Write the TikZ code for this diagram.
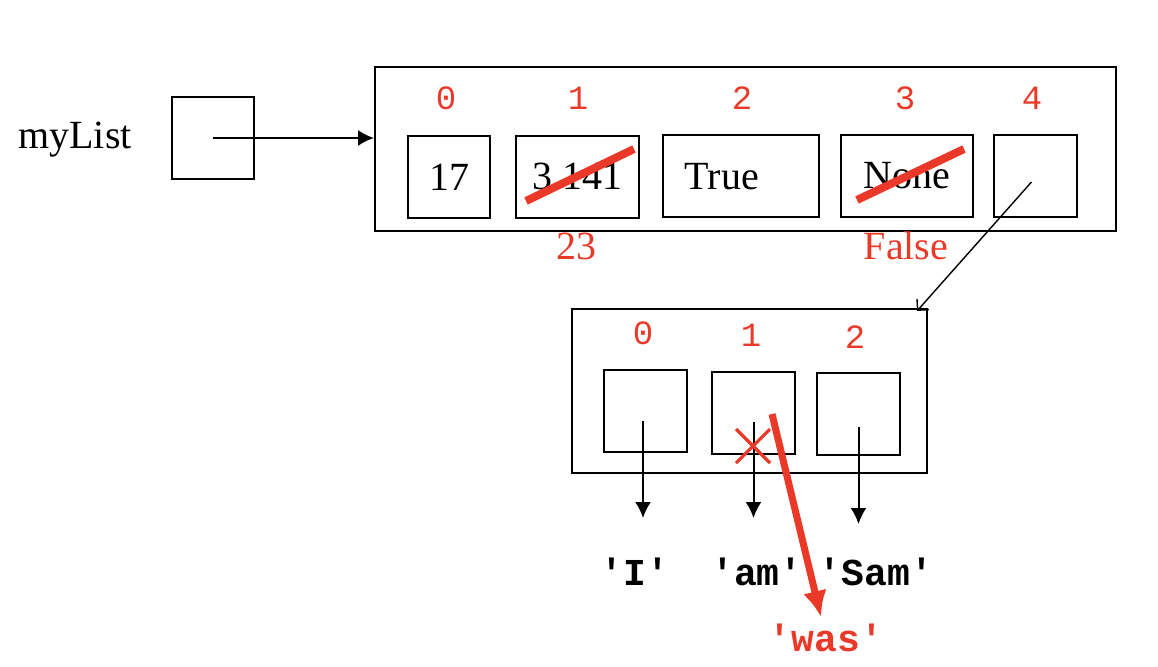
\documentclass[tikz,border=0pt]{standalone}
\usepackage{fontspec}
\setmainfont{Liberation Serif}
\setmonofont{Liberation Mono}
\usetikzlibrary{arrows.meta}
\definecolor{markred}{RGB}{234,57,40}
\tikzset{
  box/.style={draw,line width=1pt,inner sep=0pt},
  idx/.style={text=markred,font=\fontsize{17}{17}\selectfont\ttfamily},
  val/.style={font=\fontsize{20}{20}\selectfont},
  str/.style={font=\fontsize{19}{19}\selectfont\ttfamily\bfseries},
  ptr/.style={-{Latex[length=8pt,width=8pt]},line width=1pt},
  strike/.style={markred,line width=4pt},
}
\begin{document}
\begin{tikzpicture}[x=0.5pt,y=-0.5pt]
\useasboundingbox (0,0) rectangle (1158,666);
%% variable
  \node (name) at (75,140) [val] {myList};
  \node (var) at (213,138) [box,minimum width=41pt,minimum height=41pt] {};
%% outer list
  \node (outer) at (745.5,149) [box,minimum width=370.5pt,minimum height=82pt] {};
  \node (idx0) at (446,98) [idx] {0};
  \node (idx1) at (578,98) [idx] {1};
  \node (idx2) at (742,98) [idx] {2};
  \node (idx3) at (905,98) [idx] {3};
  \node (idx4) at (1032,98) [idx] {4};
  \node (c0) at (449,177) [box,val,minimum width=41pt,minimum height=41pt] {17};
  \node (c1) at (577.5,177) [box,val,minimum width=61.5pt,minimum height=41pt] {3.141};
  \node (c2) at (741,176) [box,minimum width=78pt,minimum height=41pt] {};
  \node (v2) at (722,177) [val] {True};
  \node (c3) at (907,176) [box,val,minimum width=66pt,minimum height=41pt] {None};
  \node (c4) at (1035.5,176) [box,minimum width=41.5pt,minimum height=41pt] {};
  \draw [strike] (526,201) -- (634,149);
  \draw [strike] (857,200) -- (964,149);
  \node (new1) at (576,246) [val,text=markred] {23};
  \node (new3) at (906,246) [val,text=markred] {False};
  \draw [ptr] (var.center) -- (var.center -| outer.west);
%% inner list
  \node (inner) at (749,391) [box,minimum width=177.5pt,minimum height=82pt] {};
  \coordinate (in4) at (917,311);
  \draw [-{Straight Barb[length=4pt,width=8pt]},line width=0.7pt] (c4.center) ++(-4,6) -- (in4);
  \node (jdx0) at (643,333) [idx] {0};
  \node (jdx1) at (751,335) [idx] {1};
  \node (jdx2) at (855,337) [idx] {2};
  \node (i0) at (645.5,411) [box,minimum width=41.5pt,minimum height=41pt] {};
  \node (i1) at (753.5,412.5) [box,minimum width=41.5pt,minimum height=41pt] {};
  \node (i2) at (858.5,414) [box,minimum width=41.5pt,minimum height=41pt] {};
  \node (s0) at (635,572) [str] {'I'};
  \node (s1) at (757,572) [str] {'am'};
  \node (s2) at (876,572) [str] {'Sam'};
  \node (s3) at (826,638) [str,text=markred] {'was'};
  \draw [ptr] (i0.center) ++(-2.5,10) -- ++(0,97);
  \draw [ptr] (i1.center) ++(0,9.5) -- ++(0,96);
  \draw [ptr] (i2.center) ++(0,13) -- ++(0,97);
  \draw [markred,line width=1.6pt] (736,429) -- (770,463) (736,463) -- (770,429);
  \draw [markred,line width=3.5pt,-{Latex[length=13pt,width=12pt]}] (772,414) -- (s3.north -| 821,0);
%
\end{tikzpicture}
\end{document}
